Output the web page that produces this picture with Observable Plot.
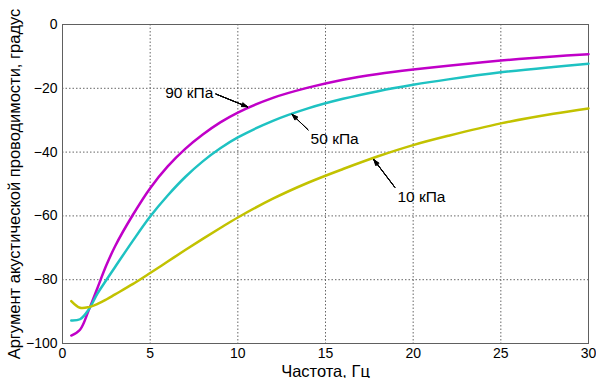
<!DOCTYPE html>
<html>
<head>
<meta charset="utf-8">
<script src="https://cdn.jsdelivr.net/npm/d3@7"></script>
<script src="https://cdn.jsdelivr.net/npm/@observablehq/plot@0.6"></script>
<style>
  html, body { margin: 0; padding: 0; background: #fff; }
</style>
</head>
<body>
<div id="chart"></div>
<script>
// Frequency, Hz
const freq = [0.5, 1, 1.5, 2, 2.5, 3, 4, 5, 6, 7, 8, 9, 10, 12, 14, 16, 18, 20, 22, 25, 28, 30];
// Admittance phase, degrees
const kPa90 = [-97.5, -95.7, -89.5, -82.5, -75.5, -69.5, -59.8, -51.3, -44.5, -39.0, -34.5, -30.7, -27.6, -23.0, -19.8, -17.3, -15.5, -14.1, -12.9, -11.3, -10.0, -9.3];
const kPa50 = [-92.8, -92.4, -89.3, -84.3, -80.1, -76.0, -67.9, -60.2, -53.6, -47.8, -42.9, -38.8, -35.4, -30.2, -26.3, -23.3, -20.9, -18.9, -17.2, -15.0, -13.3, -12.3];
const kPa10 = [-86.7, -88.8, -88.6, -87.6, -86.2, -84.6, -81.4, -77.9, -74.3, -70.7, -67.2, -63.8, -60.5, -54.6, -49.6, -45.3, -41.3, -37.8, -34.9, -31.0, -28.0, -26.3];
const seriesNames = ["90 кПа", "50 кПа", "10 кПа"];
const seriesColors = ["#c000c8", "#1ec2c2", "#c2c200"];
const xTicks = [0, 5, 10, 15, 20, 25, 30];
const yTicks = [0, -20, -40, -60, -80, -100];

// Annotation labels (data coordinates): text position, arrow start, arrow tip
const labelText = ["90 кПа", "50 кПа", "10 кПа"];
const labelX = [8.6, 14.15, 19.1];
const labelY = [-21.6, -36, -54.1];
const labelAnchor = ["end", "start", "start"];
const arrowX1 = [8.75, 14.0, 18.95];
const arrowY1 = [-21.8, -33.0, -51.0];
const arrowX2 = [10.55, 13.1, 17.76];
const arrowY2 = [-25.8, -28.2, -42.4];

const rows = [];
[kPa90, kPa50, kPa10].forEach((vals, i) => {
  vals.forEach((v, j) => rows.push({series: seriesNames[i], f: freq[j], v}));
});
const labels = labelText.map((t, i) => ({
  t, x: labelX[i], y: labelY[i], anchor: labelAnchor[i],
  x1: arrowX1[i], y1: arrowY1[i], x2: arrowX2[i], y2: arrowY2[i]
}));

const arrowOpts = (angle) => ({x1: "x1", y1: "y1", x2: "x2", y2: "y2", stroke: "#000", strokeWidth: 1, headLength: 9, headAngle: angle});

const chart = Plot.plot({
  width: 596,
  height: 378,
  marginLeft: 62,
  marginRight: 8,
  marginTop: 24,
  marginBottom: 35,
  style: {fontFamily: "'Liberation Sans', Arial, sans-serif", fontSize: "14px", color: "#000", background: "#fff"},
  x: {domain: [0, 30]},
  y: {domain: [-100, 0]},
  color: {domain: seriesNames, range: seriesColors},
  marks: [
    Plot.gridX(xTicks, {stroke: "#666", strokeOpacity: 1, strokeDasharray: "1.5,2"}),
    Plot.gridY(yTicks, {stroke: "#666", strokeOpacity: 1, strokeDasharray: "1.5,2"}),
    Plot.frame({stroke: "#606060", strokeWidth: 1}),
    Plot.axisX({ticks: xTicks, tickSize: 0, tickPadding: 5, fontSize: 14,
      label: "Частота, Гц", labelAnchor: "center", labelArrow: "none", labelOffset: 33}),
    Plot.axisY({ticks: yTicks, tickSize: 0, tickPadding: 5, fontSize: 14,
      label: "Аргумент акустической проводимости, градус", labelAnchor: "center", labelArrow: "none", labelOffset: 54}),
    Plot.line(rows, {x: "f", y: "v", z: "series", stroke: "series", strokeWidth: 2.5, curve: "catmull-rom"}),
    Plot.arrow(labels, arrowOpts(40)),
    Plot.arrow(labels, arrowOpts(30)),
    Plot.arrow(labels, arrowOpts(20)),
    Plot.arrow(labels, arrowOpts(10)),
    Plot.text(labels, {filter: d => d.anchor === "end", x: "x", y: "y", text: "t", textAnchor: "end", fontSize: 15.5, fill: "#000"}),
    Plot.text(labels, {filter: d => d.anchor === "start", x: "x", y: "y", text: "t", textAnchor: "start", fontSize: 15.5, fill: "#000"})
  ]
});
chart.querySelectorAll("[aria-label='x-axis label'] text, [aria-label='y-axis label'] text").forEach(t => t.setAttribute("font-size", "16.5"));
document.getElementById("chart").appendChild(chart);
</script>
</body>
</html>
